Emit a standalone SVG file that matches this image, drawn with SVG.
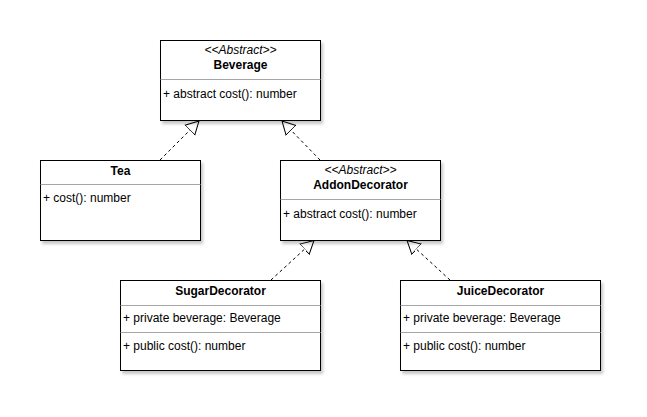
<svg xmlns="http://www.w3.org/2000/svg" width="647" height="417" viewBox="0 0 647 417">
<style>
.box{fill:#fff;stroke:#000;stroke-width:1;filter:url(#sh)}
.div{stroke:#a6a6a6;stroke-width:1}
text{font-family:"Liberation Sans",Arial,sans-serif;font-size:12px;fill:#000}
.st{font-style:italic;text-anchor:middle}
.nm{font-weight:bold;text-anchor:middle}
.edge{stroke:#000;stroke-width:1;stroke-dasharray:3 3;fill:none;marker-end:url(#tri)}
</style>
<defs>
<filter id="sh" x="-10%" y="-10%" width="125%" height="130%">
<feDropShadow dx="2" dy="3" stdDeviation="1.5" flood-color="#000" flood-opacity="0.22"/>
</filter>
<marker id="tri" markerUnits="userSpaceOnUse" markerWidth="16" markerHeight="16" refX="13" refY="7" orient="auto" viewBox="0 0 16 14">
<path d="M0,0 L13,7 L0,14 Z" fill="#fff" stroke="#000" stroke-width="1" stroke-dasharray="none"/>
</marker>
</defs>
<rect width="647" height="417" fill="#fff"/>
<g id="edges">
<path class="edge" d="M160,160 L199,121"/>
<path class="edge" d="M320,160 L282,121"/>
<path class="edge" d="M271,280 L314,240.5"/>
<path class="edge" d="M450,280 L407,240.5"/>
</g>
<g id="beverage">
<rect class="box" x="160.5" y="40.5" width="160" height="80"/>
<line class="div" x1="160.5" y1="79.5" x2="320.5" y2="79.5"/>
<text class="st" x="240.5" y="54">&lt;&lt;Abstract&gt;&gt;</text>
<text class="nm" x="240.5" y="69">Beverage</text>
<text x="163" y="97.5">+ abstract cost(): number</text>
</g>
<g id="tea">
<rect class="box" x="40.5" y="160.5" width="160" height="80"/>
<line class="div" x1="40.5" y1="184.5" x2="200.5" y2="184.5"/>
<text class="nm" x="120.5" y="175">Tea</text>
<text x="43" y="201.5">+ cost(): number</text>
</g>
<g id="addon">
<rect class="box" x="280.5" y="160.5" width="160" height="80"/>
<line class="div" x1="280.5" y1="199.5" x2="440.5" y2="199.5"/>
<text class="st" x="360.5" y="174">&lt;&lt;Abstract&gt;&gt;</text>
<text class="nm" x="360.5" y="189">AddonDecorator</text>
<text x="283" y="217.5">+ abstract cost(): number</text>
</g>
<g id="sugar">
<rect class="box" x="120.5" y="280.5" width="200" height="90"/>
<line class="div" x1="120.5" y1="305.5" x2="320.5" y2="305.5"/>
<line class="div" x1="120.5" y1="332.5" x2="320.5" y2="332.5"/>
<text class="nm" x="220.5" y="295">SugarDecorator</text>
<text x="123" y="322">+ private beverage: Beverage</text>
<text x="123" y="350">+ public cost(): number</text>
</g>
<g id="juice">
<rect class="box" x="400.5" y="280.5" width="200" height="90"/>
<line class="div" x1="400.5" y1="305.5" x2="600.5" y2="305.5"/>
<line class="div" x1="400.5" y1="332.5" x2="600.5" y2="332.5"/>
<text class="nm" x="500.5" y="295">JuiceDecorator</text>
<text x="403" y="322">+ private beverage: Beverage</text>
<text x="403" y="350">+ public cost(): number</text>
</g>
</svg>
